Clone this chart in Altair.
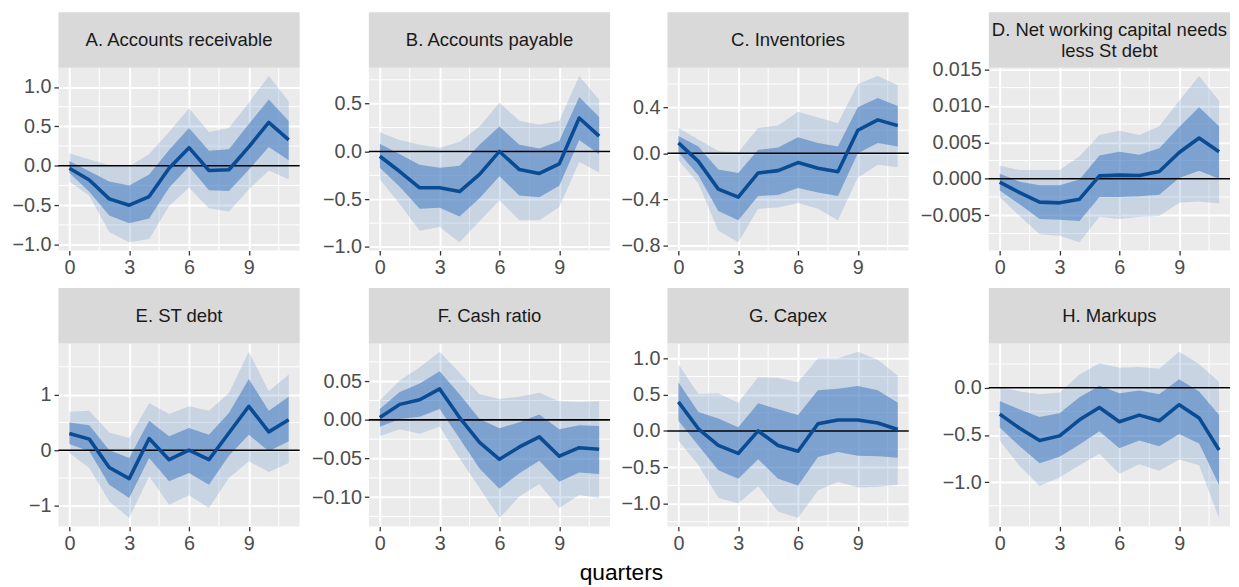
import altair as alt
import pandas as pd

quarters = list(range(12))

titles = ["A. Accounts receivable", "B. Accounts payable", "C. Inventories",
          "D. Net working capital needs\nless St debt", "E. ST debt", "F. Cash ratio",
          "G. Capex", "H. Markups"]

# A. Accounts receivable
a_mean = [-0.03, -0.18, -0.42, -0.50, -0.39, -0.03, 0.23, -0.06, -0.05, 0.24, 0.55, 0.33]
a_ilo = [-0.09, -0.33, -0.63, -0.73, -0.67, -0.28, -0.01, -0.31, -0.32, -0.05, 0.24, 0.07]
a_ihi = [0.06, -0.07, -0.20, -0.25, -0.11, 0.20, 0.48, 0.19, 0.21, 0.53, 0.84, 0.57]
a_olo = [-0.20, -0.38, -0.84, -0.97, -0.93, -0.51, -0.28, -0.54, -0.58, -0.30, -0.06, -0.17]
a_ohi = [0.16, 0.08, 0.01, -0.01, 0.15, 0.43, 0.73, 0.43, 0.48, 0.80, 1.14, 0.82]
a_ticks = [-1.0, -0.5, 0.0, 0.5, 1.0]

# B. Accounts payable
b_mean = [-0.05, -0.21, -0.38, -0.38, -0.42, -0.24, 0.00, -0.19, -0.23, -0.13, 0.35, 0.16]
b_ilo = [-0.17, -0.37, -0.60, -0.59, -0.68, -0.49, -0.26, -0.46, -0.48, -0.36, 0.12, -0.03]
b_ihi = [0.08, -0.03, -0.14, -0.17, -0.15, 0.07, 0.26, 0.07, 0.03, 0.11, 0.57, 0.36]
b_olo = [-0.29, -0.55, -0.83, -0.79, -0.95, -0.73, -0.51, -0.72, -0.72, -0.58, -0.11, -0.22]
b_ohi = [0.20, 0.12, 0.07, 0.04, 0.10, 0.26, 0.51, 0.32, 0.28, 0.32, 0.79, 0.54]
b_ticks = [-1.0, -0.5, 0.0, 0.5]

# C. Inventories
c_mean = [0.09, -0.07, -0.31, -0.38, -0.17, -0.15, -0.08, -0.13, -0.16, 0.20, 0.29, 0.24]
c_ilo = [0.01, -0.19, -0.50, -0.58, -0.37, -0.36, -0.30, -0.34, -0.37, 0.00, 0.09, 0.06]
c_ihi = [0.15, 0.06, -0.14, -0.17, 0.03, 0.05, 0.14, 0.09, 0.06, 0.40, 0.48, 0.41]
c_olo = [-0.06, -0.26, -0.67, -0.77, -0.48, -0.47, -0.43, -0.48, -0.58, -0.21, -0.10, -0.12]
c_ohi = [0.22, 0.12, 0.02, 0.01, 0.22, 0.24, 0.36, 0.31, 0.26, 0.60, 0.67, 0.59]
c_ticks = [-0.8, -0.4, 0.0, 0.4]

# D. Net working capital needs less St debt
d_mean = [-0.00045, -0.0019, -0.0032, -0.0033, -0.0028, 0.0004, 0.0005, 0.00045, 0.0010, 0.0036, 0.0056, 0.0037]
d_ilo = [-0.0016, -0.0035, -0.0055, -0.0056, -0.0058, -0.0025, -0.0025, -0.0024, -0.0022, 0.0001, 0.0011, 0.0000]
d_ihi = [0.0007, -0.0004, -0.0009, -0.0009, -0.0001, 0.0032, 0.0037, 0.0033, 0.0042, 0.0071, 0.0098, 0.0072]
d_olo = [-0.0025, -0.0051, -0.0076, -0.0078, -0.0087, -0.0052, -0.0055, -0.0052, -0.0051, -0.0033, -0.0031, -0.0034]
d_ohi = [0.0018, 0.0012, 0.0012, 0.0012, 0.0031, 0.0060, 0.0066, 0.0060, 0.0072, 0.0107, 0.0141, 0.0107]
d_ticks = [-0.005, 0.0, 0.005, 0.010, 0.015]

# E. ST debt
e_mean = [0.30, 0.20, -0.31, -0.51, 0.21, -0.17, 0.00, -0.17, 0.31, 0.79, 0.33, 0.55]
e_ilo = [0.11, -0.02, -0.62, -0.86, -0.14, -0.56, -0.41, -0.62, -0.10, 0.28, -0.02, 0.16]
e_ihi = [0.50, 0.45, 0.00, -0.14, 0.53, 0.25, 0.40, 0.28, 0.67, 1.28, 0.71, 0.96]
e_olo = [-0.05, -0.32, -0.92, -1.22, -0.47, -0.98, -0.81, -1.04, -0.50, -0.20, -0.39, -0.23]
e_ohi = [0.69, 0.71, 0.32, 0.22, 0.85, 0.65, 0.79, 0.71, 1.03, 1.77, 1.06, 1.36]
e_ticks = [-1, 0, 1]

# F. Cash ratio
f_mean = [0.003, 0.020, 0.026, 0.040, 0.003, -0.029, -0.051, -0.035, -0.022, -0.047, -0.036, -0.038]
f_ilo = [-0.009, 0.001, 0.004, 0.014, -0.024, -0.063, -0.089, -0.069, -0.053, -0.080, -0.068, -0.070]
f_ihi = [0.014, 0.036, 0.047, 0.063, 0.033, 0.001, -0.011, -0.003, 0.007, -0.012, -0.007, -0.008]
f_olo = [-0.021, -0.012, -0.018, -0.009, -0.050, -0.088, -0.127, -0.099, -0.083, -0.114, -0.097, -0.101]
f_ohi = [0.025, 0.051, 0.068, 0.088, 0.061, 0.033, 0.027, 0.030, 0.035, 0.024, 0.023, 0.024]
f_ticks = [-0.10, -0.05, 0.0, 0.05]

# G. Capex
g_mean = [0.40, 0.03, -0.20, -0.31, 0.00, -0.20, -0.28, 0.10, 0.15, 0.15, 0.11, 0.02]
g_ilo = [0.14, -0.20, -0.54, -0.66, -0.39, -0.66, -0.75, -0.36, -0.29, -0.34, -0.35, -0.37]
g_ihi = [0.67, 0.26, 0.17, 0.05, 0.38, 0.30, 0.22, 0.56, 0.58, 0.62, 0.56, 0.39]
g_olo = [-0.13, -0.47, -0.92, -1.00, -0.76, -1.11, -1.20, -0.82, -0.70, -0.78, -0.77, -0.74]
g_ohi = [0.92, 0.51, 0.52, 0.39, 0.74, 0.73, 0.67, 1.00, 1.00, 1.09, 0.98, 0.76]
g_ticks = [-1.0, -0.5, 0.0, 0.5, 1.0]

# H. Markups
h_mean = [-0.28, -0.43, -0.56, -0.51, -0.34, -0.21, -0.36, -0.29, -0.35, -0.18, -0.32, -0.66]
h_ilo = [-0.42, -0.62, -0.80, -0.73, -0.60, -0.46, -0.64, -0.56, -0.62, -0.49, -0.59, -1.03]
h_ihi = [-0.14, -0.23, -0.31, -0.27, -0.10, 0.02, -0.06, -0.03, -0.07, 0.09, -0.04, -0.29]
h_olo = [-0.56, -0.83, -1.04, -0.95, -0.82, -0.70, -0.91, -0.81, -0.88, -0.76, -0.82, -1.38]
h_ohi = [0.01, -0.04, -0.07, -0.05, 0.14, 0.26, 0.21, 0.22, 0.20, 0.38, 0.25, 0.06]
h_ticks = [-1.0, -0.5, 0.0]

x_ticks = [0, 3, 6, 9]
tick_formats = [".1f", ".1f", ".1f", ".3f", "d", ".2f", ".1f", ".1f"]

series = [
    (a_mean, a_ilo, a_ihi, a_olo, a_ohi, a_ticks),
    (b_mean, b_ilo, b_ihi, b_olo, b_ohi, b_ticks),
    (c_mean, c_ilo, c_ihi, c_olo, c_ohi, c_ticks),
    (d_mean, d_ilo, d_ihi, d_olo, d_ohi, d_ticks),
    (e_mean, e_ilo, e_ihi, e_olo, e_ohi, e_ticks),
    (f_mean, f_ilo, f_ihi, f_olo, f_ohi, f_ticks),
    (g_mean, g_ilo, g_ihi, g_olo, g_ohi, g_ticks),
    (h_mean, h_ilo, h_ihi, h_olo, h_ohi, h_ticks),
]

W, H = 244, 185
STRIP = 56
FONT = "Liberation Sans"
LINE_COLOR = "#0A4C94"
BAND_COLOR = "#3F78BF"


def panel(title, mean, ilo, ihi, olo, ohi, yticks, fmt):
    df = pd.DataFrame({"q": quarters, "mean": mean, "ilo": ilo, "ihi": ihi,
                       "olo": olo, "ohi": ohi})
    allv = list(mean) + list(ilo) + list(ihi) + list(olo) + list(ohi) + [0.0]
    lo, hi = min(allv), max(allv)
    r = hi - lo
    ydom = [lo - 0.05 * r, hi + 0.05 * r]
    xdom = [-0.55, 11.55]
    xs = alt.Scale(domain=xdom, nice=False, zero=False)
    ys = alt.Scale(domain=ydom, nice=False, zero=False)
    xax = alt.Axis(values=x_ticks, format="d", title=None)
    yax = alt.Axis(values=yticks, format=fmt, title=None)

    step = yticks[1] - yticks[0]
    yminor = [t - step / 2 for t in yticks] + [yticks[-1] + step / 2]
    yminor = [v for v in yminor if ydom[0] <= v <= ydom[1]]
    xstep = x_ticks[1] - x_ticks[0]
    xminor = [t + xstep / 2 for t in x_ticks]
    xminor = [v for v in xminor if xdom[0] <= v <= xdom[1]]

    hminor = alt.Chart(pd.DataFrame({"v": yminor})).mark_rule(
        color="white", strokeWidth=1).encode(y=alt.Y("v:Q", scale=ys, axis=yax))
    vminor = alt.Chart(pd.DataFrame({"v": xminor})).mark_rule(
        color="white", strokeWidth=1).encode(x=alt.X("v:Q", scale=xs, axis=xax))

    base = alt.Chart(df)
    outer = base.mark_area(color=BAND_COLOR, opacity=0.2).encode(
        x=alt.X("q:Q", scale=xs, axis=xax),
        y=alt.Y("olo:Q", scale=ys, axis=yax), y2="ohi:Q")
    inner = base.mark_area(color=BAND_COLOR, opacity=0.55).encode(
        x=alt.X("q:Q", scale=xs, axis=xax),
        y=alt.Y("ilo:Q", scale=ys, axis=yax), y2="ihi:Q")
    zero = alt.Chart(pd.DataFrame({"z": [0.0]})).mark_rule(
        color="black", strokeWidth=1.6).encode(y=alt.Y("z:Q", scale=ys, axis=yax))
    line = base.mark_line(color=LINE_COLOR, strokeWidth=3.6, strokeJoin="round").encode(
        x=alt.X("q:Q", scale=xs, axis=xax),
        y=alt.Y("mean:Q", scale=ys, axis=yax))

    lab = pd.DataFrame({"label": [title]})
    strip = alt.Chart(lab).mark_rect(fill="#D9D9D9").encode(
        x=alt.value(0), x2=alt.value(W), y=alt.value(-STRIP), y2=alt.value(0))
    ty = -STRIP / 2 - (10 if "\n" in title else 0)
    strip_text = alt.Chart(lab).mark_text(
        font=FONT, fontSize=18.7, color="#1A1A1A", align="center", baseline="middle",
        lineBreak="\n", lineHeight=21).encode(
        x=alt.value(W / 2), y=alt.value(ty), text="label:N")

    return alt.layer(hminor, vminor, outer, inner, zero, line, strip, strip_text).properties(
        width=W, height=H)


panels = [panel(t, *s, f) for t, s, f in zip(titles, series, tick_formats)]

chart = alt.concat(*panels, columns=4, spacing=10, align="each").properties(
    title=alt.TitleParams("quarters", orient="bottom", anchor="middle", fontSize=23,
                          fontWeight="normal", color="black", font=FONT, offset=9),
    padding={"left": 4, "top": 1, "right": 0, "bottom": 0},
).configure_view(
    fill="#EBEBEB", strokeWidth=0
).configure_axis(
    labelFont=FONT, labelFontSize=20, labelColor="#4D4D4D",
    tickColor="#333333", tickSize=4.5, tickWidth=1.3, labelPadding=3,
    domain=False, grid=True, gridColor="white", gridWidth=2,
    labelFlush=False, labelOverlap=False, labelBound=False
)

chart.save("out.html", embed_options={"renderer": "svg", "actions": False})
